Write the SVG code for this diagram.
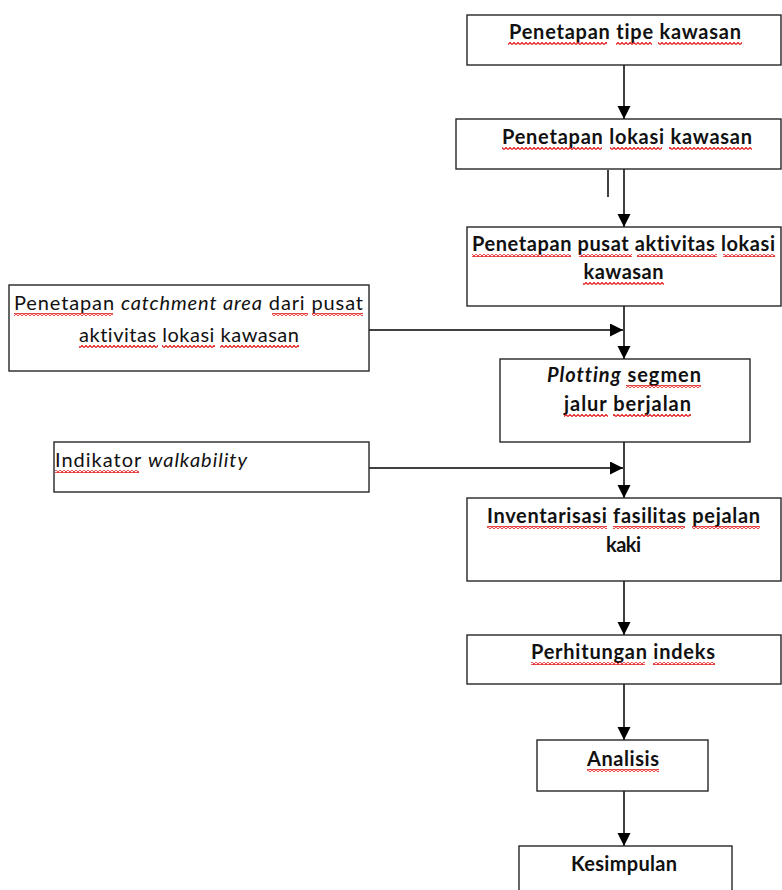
<svg xmlns="http://www.w3.org/2000/svg" width="782" height="890" viewBox="0 0 782 890">
<style>
.box{fill:#fff;stroke:#262626;stroke-width:1.4}
.t{font-family:Lato,"Open Sans",sans-serif;font-size:20px;font-weight:bold;fill:#111;text-anchor:middle;font-variant-ligatures:none;font-feature-settings:"liga" 0,"clig" 0}
.r{font-family:Lato,"Open Sans",sans-serif;font-size:20px;fill:#111;text-anchor:middle;font-variant-ligatures:none;font-feature-settings:"liga" 0,"clig" 0}
.c{stroke:#000;stroke-width:1.5;fill:none}
.sq{fill:url(#sqp)}
</style>
<defs>
<marker id="ah" markerUnits="userSpaceOnUse" markerWidth="14" markerHeight="14" refX="13" refY="6.5" orient="auto">
<path d="M0,0 L13,6.5 L0,13 Z" fill="#000"/>
</marker>
<pattern id="sqp" patternUnits="userSpaceOnUse" width="4" height="3">
<path d="M0,2.5 L2,0.5 L4,2.5" fill="none" stroke="#e01818" stroke-width="1.2"/>
</pattern>
</defs>
<g id="connectors">
<line class="c" x1="624" y1="65" x2="624" y2="119" marker-end="url(#ah)"/>
<line class="c" x1="624" y1="169" x2="624" y2="227" marker-end="url(#ah)"/>
<line class="c" x1="608" y1="170" x2="608" y2="197"/>
<line class="c" x1="624" y1="306" x2="624" y2="359" marker-end="url(#ah)"/>
<line class="c" x1="369" y1="330" x2="623" y2="330" marker-end="url(#ah)"/>
<line class="c" x1="624" y1="442" x2="624" y2="498" marker-end="url(#ah)"/>
<line class="c" x1="369" y1="468" x2="623" y2="468" marker-end="url(#ah)"/>
<line class="c" x1="624" y1="581" x2="624" y2="635" marker-end="url(#ah)"/>
<line class="c" x1="624" y1="684" x2="624" y2="740" marker-end="url(#ah)"/>
<line class="c" x1="624" y1="791" x2="624" y2="846" marker-end="url(#ah)"/>
</g>
<g id="n1">
<rect class="box" x="467" y="15" width="314" height="50"/>
<text class="t" x="625" y="39" textLength="232" lengthAdjust="spacing">Penetapan tipe kawasan</text>
<rect class="sq" x="508" y="42" width="99" height="3"/><rect class="sq" x="616" y="42" width="36" height="3"/><rect class="sq" x="658" y="42" width="84" height="3"/>
</g>
<g id="n2">
<rect class="box" x="456" y="119" width="325" height="50"/>
<text class="t" x="627" y="144" textLength="250" lengthAdjust="spacing">Penetapan lokasi kawasan</text>
<rect class="sq" x="502" y="147" width="100" height="3"/><rect class="sq" x="610" y="147" width="52" height="3"/><rect class="sq" x="669" y="147" width="83" height="3"/>
</g>
<g id="n3">
<rect class="box" x="467" y="227" width="314" height="79"/>
<text class="t" x="623.5" y="251" textLength="303" lengthAdjust="spacing">Penetapan pusat aktivitas lokasi</text>
<text class="t" x="623.5" y="279" textLength="80" lengthAdjust="spacing">kawasan</text>
<rect class="sq" x="472" y="254" width="99" height="3"/><rect class="sq" x="579" y="254" width="53" height="3"/><rect class="sq" x="637" y="254" width="80" height="3"/><rect class="sq" x="723" y="254" width="52" height="3"/>
<rect class="sq" x="583" y="282" width="81" height="3"/>
</g>
<g id="nA">
<rect class="box" x="9" y="285" width="360" height="86"/>
<text class="r" x="188.5" y="310" textLength="349" lengthAdjust="spacing">Penetapan <tspan font-style="italic">catchment area</tspan> dari pusat</text>
<text class="r" x="189" y="342" textLength="220" lengthAdjust="spacing">aktivitas lokasi kawasan</text>
<rect class="sq" x="14" y="313" width="99" height="3"/><rect class="sq" x="272" y="313" width="36" height="3"/><rect class="sq" x="312" y="313" width="51" height="3"/>
<rect class="sq" x="79" y="345" width="79" height="3"/><rect class="sq" x="162" y="345" width="53" height="3"/><rect class="sq" x="220" y="345" width="79" height="3"/>
</g>
<g id="nB">
<rect class="box" x="54" y="442" width="315" height="50"/>
<text class="r" x="55" y="467" style="text-anchor:start" textLength="192" lengthAdjust="spacing">Indikator <tspan font-style="italic">walkability</tspan></text>
<rect class="sq" x="55" y="470" width="84" height="3"/>
</g>
<g id="n4">
<rect class="box" x="500" y="359" width="250" height="83"/>
<text class="t" x="624" y="382" textLength="154" lengthAdjust="spacing"><tspan font-style="italic">Plotting</tspan> segmen</text>
<text class="t" x="627.5" y="411" textLength="127" lengthAdjust="spacing">jalur berjalan</text>
<rect class="sq" x="626" y="385" width="75" height="3"/>
<rect class="sq" x="564" y="414" width="44" height="3"/><rect class="sq" x="613" y="414" width="78" height="3"/>
</g>
<g id="n5">
<rect class="box" x="467" y="498" width="314" height="83"/>
<text class="t" x="623.5" y="523" textLength="273" lengthAdjust="spacing">Inventarisasi fasilitas pejalan</text>
<text class="t" x="623.5" y="552" textLength="35" lengthAdjust="spacing">kaki</text>
<rect class="sq" x="487" y="526" width="120" height="3"/><rect class="sq" x="613" y="526" width="72" height="3"/><rect class="sq" x="692" y="526" width="68" height="3"/>
</g>
<g id="n6">
<rect class="box" x="467" y="635" width="314" height="49"/>
<text class="t" x="623" y="659" textLength="184" lengthAdjust="spacing">Perhitungan indeks</text>
<rect class="sq" x="531" y="662" width="114" height="3"/><rect class="sq" x="653" y="662" width="62" height="3"/>
</g>
<g id="n7">
<rect class="box" x="537" y="740" width="171" height="51"/>
<text class="t" x="623" y="766" textLength="72" lengthAdjust="spacing">Analisis</text>
<rect class="sq" x="587" y="769" width="72" height="3"/>
</g>
<g id="n8">
<rect class="box" x="519" y="846" width="213" height="60"/>
<text class="t" x="624" y="871" textLength="106" lengthAdjust="spacing">Kesimpulan</text>
</g>
</svg>
